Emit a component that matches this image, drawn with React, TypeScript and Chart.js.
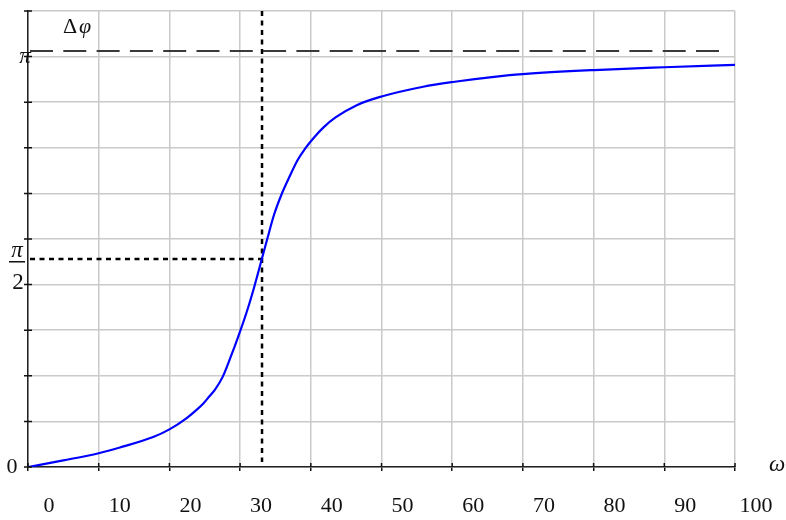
import { useEffect, useRef } from "react";
import { Chart, registerables } from "chart.js";

Chart.register(...registerables);

// Curve: ω (axis units) and phase shift Δφ (rad)
const OMEGA = [0, 5, 10, 13.0, 17.7, 20, 22.4, 23.6, 24.8, 25.6, 26.45, 27.5, 28.6, 29.8, 30.9, 32.0, 33.1, 33.8, 34.8, 35.9, 37.1, 38.1, 39.2, 40.4, 41.8, 43.5, 46.5, 50.0, 55.9, 60.1, 65.3, 70.0, 80.1, 90.0, 100];
const PHASE = [0, 0.050, 0.104, 0.147, 0.226, 0.284, 0.368, 0.420, 0.480, 0.530, 0.585, 0.677, 0.822, 0.995, 1.165, 1.360, 1.576, 1.714, 1.905, 2.064, 2.205, 2.315, 2.405, 2.485, 2.565, 2.640, 2.733, 2.798, 2.872, 2.908, 2.943, 2.967, 2.998, 3.019, 3.037];

const X_TICKS = [0, 10, 20, 30, 40, 50, 60, 70, 80, 90, 100];
const X_MIN = 0;
const X_MAX = 100;
const Y_MAX = 3.444;
const Y_GRID_COUNT = 10;
const OMEGA_0 = 33.1; // resonance marker (vertical dotted line)
const HALF_PI = Math.PI / 2;
const PI_LINE_END = 98.3;
const X_TITLE = "ω";
const Y_TITLE_A = "Δ";
const Y_TITLE_B = "φ";

const SERIF = "'Liberation Serif', 'Times New Roman', serif";

export default function App() {
  const ref = useRef<HTMLCanvasElement>(null);

  useEffect(() => {
    document.body.style.margin = "0";
    const canvas = ref.current!;

    const refPlugin = {
      id: "refLines",
      beforeDatasetsDraw(chart: any) {
        const { ctx, chartArea, scales } = chart;
        const x = scales.x;
        const y = scales.y;
        ctx.save();
        // dashed line at π
        ctx.strokeStyle = "#3a3a3a";
        ctx.lineWidth = 2;
        ctx.setLineDash([23, 10.3]);
        ctx.beginPath();
        ctx.moveTo(x.getPixelForValue(X_MIN) + 2, y.getPixelForValue(Math.PI));
        ctx.lineTo(x.getPixelForValue(PI_LINE_END), y.getPixelForValue(Math.PI));
        ctx.stroke();
        // dotted lines at ω0 and π/2
        ctx.strokeStyle = "#000";
        ctx.lineWidth = 2.5;
        ctx.setLineDash([5, 4.5]);
        const px0 = x.getPixelForValue(OMEGA_0);
        ctx.beginPath();
        ctx.moveTo(px0, chartArea.top);
        ctx.lineTo(px0, chartArea.bottom - 5);
        ctx.stroke();
        ctx.beginPath();
        ctx.moveTo(x.getPixelForValue(X_MIN) + 2, y.getPixelForValue(HALF_PI));
        ctx.lineTo(px0, y.getPixelForValue(HALF_PI));
        ctx.stroke();
        ctx.restore();
      },
      afterDraw(chart: any) {
        const { ctx, chartArea, scales } = chart;
        const x = scales.x;
        const y = scales.y;
        ctx.save();
        // inward tick marks
        ctx.strokeStyle = "#111";
        ctx.lineWidth = 1.5;
        ctx.beginPath();
        x.ticks.forEach((t: any) => {
          const px = x.getPixelForValue(t.value);
          ctx.moveTo(px, chartArea.bottom);
          ctx.lineTo(px, chartArea.bottom - 4);
        });
        y.ticks.forEach((t: any) => {
          const py = y.getPixelForValue(t.value);
          ctx.moveTo(chartArea.left - 4, py);
          ctx.lineTo(chartArea.left + 4, py);
        });
        ctx.stroke();

        // y labels
        ctx.fillStyle = "#111";
        ctx.textAlign = "center";
        ctx.textBaseline = "middle";
        ctx.font = `22px ${SERIF}`;
        ctx.fillText("0", 12, y.getPixelForValue(0));

        ctx.textBaseline = "alphabetic";
        ctx.font = `italic 23px ${SERIF}`;
        ctx.fillText("π", 25, y.getPixelForValue(Math.PI) + 12);

        const ph = y.getPixelForValue(HALF_PI);
        ctx.fillText("π", 17, ph - 2);
        ctx.fillRect(9, ph + 2, 16, 1.5);
        ctx.font = `23px ${SERIF}`;
        ctx.fillText("2", 18, ph + 30);

        // axis titles
        ctx.font = `italic 23px ${SERIF}`;
        ctx.textBaseline = "middle";
        ctx.fillText(X_TITLE, 777, chartArea.bottom - 2);
        ctx.textAlign = "left";
        ctx.font = `22px ${SERIF}`;
        ctx.fillText(Y_TITLE_A, 63, 27);
        ctx.font = `italic 22px ${SERIF}`;
        ctx.fillText(Y_TITLE_B, 79, 27);
        ctx.restore();
      },
    };

    const chart = new Chart(canvas, {
      type: "line",
      data: {
        datasets: [
          {
            data: OMEGA.map((w, i) => ({ x: w, y: PHASE[i] })),
            borderColor: "#0000ff",
            borderWidth: 2.2,
            pointRadius: 0,
            fill: false,
            cubicInterpolationMode: "monotone",
          },
        ],
      },
      options: {
        responsive: false,
        animation: false,
        layout: { padding: { top: 11, right: 51, left: 0, bottom: 0 } },
        plugins: { legend: { display: false }, tooltip: { enabled: false } },
        scales: {
          x: {
            type: "linear",
            min: X_MIN,
            max: X_MAX,
            afterBuildTicks: (s: any) => {
              s.ticks = X_TICKS.map((v) => ({ value: v }));
            },
            afterFit: (s: any) => {
              s.height = 53;
            },
            ticks: {
              labelOffset: 21,
              padding: 22,
              color: "#111",
              font: { family: SERIF, size: 22 },
              maxRotation: 0,
            },
            grid: {
              color: "#cacaca",
              lineWidth: 1.5,
              drawTicks: true,
              tickLength: 4,
              tickColor: "#111",
              tickWidth: 1.5,
            },
            border: { display: true, color: "#222", width: 1.5 },
          },
          y: {
            type: "linear",
            min: 0,
            max: Y_MAX,
            afterBuildTicks: (s: any) => {
              s.ticks = Array.from({ length: Y_GRID_COUNT + 1 }, (_, k) => ({ value: (k * Y_MAX) / Y_GRID_COUNT }));
            },
            afterFit: (s: any) => {
              s.width = 28;
            },
            ticks: { display: false },
            grid: {
              color: "#cacaca",
              lineWidth: 1.5,
              drawTicks: false,
            },
            border: { display: true, color: "#222", width: 1.5 },
          },
        },
      },
      plugins: [refPlugin],
    } as any);

    return () => chart.destroy();
  }, []);

  return (
    <div style={{ position: "absolute", left: 0, top: 0, width: 786, height: 520 }}>
      <canvas ref={ref} width={786} height={520} style={{ display: "block" }} />
    </div>
  );
}
